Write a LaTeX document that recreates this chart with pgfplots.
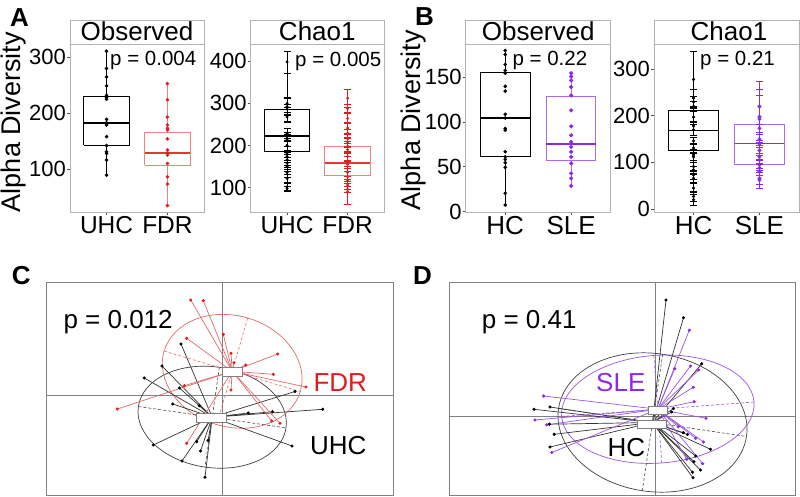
\documentclass[border=0pt]{standalone}
\usepackage{fontspec}
\setmainfont{Liberation Sans}
\usepackage{pgfplots}
\pgfplotsset{compat=1.18}
\usepackage{pgfplotstable}

\definecolor{fdrc}{RGB}{228,26,28}
\definecolor{fdrbox}{RGB}{238,130,125}
\definecolor{fdrmed}{RGB}{226,55,50}
\definecolor{slec}{RGB}{140,40,230}
\definecolor{slebox}{RGB}{172,105,236}
\definecolor{fdrline}{RGB}{226,105,105}
\definecolor{sleline}{RGB}{155,85,226}
\definecolor{fgray}{RGB}{179,179,179}
\definecolor{fgraytwo}{RGB}{128,128,128}

\newcommand{\fsz}[1]{\fontsize{#1}{#1}\selectfont}

\pgfplotsset{
 mybx/.style={scale only axis, anchor=south west, height=168pt,
   axis line style={fgray, line width=0.8pt},
   tick style={black!70, line width=0.7pt},
   tick align=outside, major tick length=3pt, xtick pos=bottom, ytick pos=left,
   xmin=0.4, xmax=2.6, xtick={1,2},
   /pgf/number format/assume math mode=true,
   yticklabel style={font=\fsz{22}, inner sep=1pt},
   xticklabel style={font=\fsz{24.5}, inner sep=1pt},
   clip=false},
 mybox/.style={line width=0.9pt, mark=none},
 mymed/.style={line width=1.5pt, mark=none},
 mydot/.style={only marks, mark=*, mark size=1.6pt},
 myebar/.style={error bars/.cd, y dir=both, y explicit,
   error bar style={line width=0.6pt, #1},
   error mark options={rotate=90, mark size=3.5pt, line width=0.6pt, #1}},
 myord/.style={scale only axis, anchor=south west, ticks=none,
   axis line style={fgraytwo, line width=0.9pt}, y dir=reverse, clip=false},
}

% ---------- Panel A data ----------
\pgfplotstableread{
y
311
280
265
249
232
228
225
189
183
179
158
142
131
128
116
89
}\AobsU
\pgfplotstableread{
y
253
224
193
179
173
170
154
134
129
125
110
86
73
34.5
}\AobsF
\pgfplotstableread{
y e
398 26
300 15
292 20
286 12
272 18
268 10
228 12
221 10
213 14
200 12
182 16
174 10
166 12
158 14
150 10
136 12
122 10
102 8
98 6
}\AchU
\pgfplotstableread{
y e
312 21
288 10
264 12
241 14
229 10
216 12
206 10
198 12
190 8
174 10
162 12
155 8
136 10
126 12
118 8
106 10
96 8
90 30
}\AchF
% ---------- Panel B data ----------
\pgfplotstableread{
y
179.7
175.2
164.1
157.4
154.4
139.7
134.4
108.6
104.4
92.6
90.8
66.7
61.1
58.2
54.4
49.3
20.4
7.4
}\BobsH
\pgfplotstableread{
y
154.4
150.7
146.3
139
129.6
112.9
95.1
85.1
77.7
72.2
66.7
61.1
53.7
42.6
37
28.6
}\BobsS
\pgfplotstableread{
y e
278 61
238 18
230 12
220 10
197 12
178 10
170 12
146 8
131 10
116 12
112 8
91 10
84 8
73 10
66 8
45 10
27 10
20 12
}\BchH
\pgfplotstableread{
y e
220 55
198 58
193 50
173 8
150 10
140 8
126 10
112 8
105 10
95 12
88 10
80 8
66 12
62 17
}\BchS
% ---------- Panel C data ----------
\pgfplotstableread{
x y
181 344
162 366
144.3 378
179.5 388
172.7 404
199.3 405.7
248.3 413
272.5 411.7
322.7 409.3
295 391.5
292 446
153.3 445
182 461
196.7 441.7
200.5 451
208 440.5
205 477.3
}\CUHC
\pgfplotstableread{
x y
190.7 300
203.3 300.7
186.7 338.3
223.3 334.3
231 353.3
234 362.7
245.7 365
277.7 354
273.3 374.3
306 387
184.3 385.7
231 390
117.3 409
186.7 443.3
271.7 421
280 423.3
}\CFDR
% ---------- Panel D data ----------
\pgfplotstableread{
x y
666 300
683.5 317.7
701.7 363.8
534 409.3
550 407
549.3 424.2
554.2 434.3
550 447
673.5 408.5
671.7 412
687.5 434.5
683.3 432.7
710.5 449.3
695.7 456
694 461.7
700.5 470
692.5 472.3
693 477.8
}\DHC
\pgfplotstableread{
x y
689.3 330.2
674.8 368.7
690.5 366
698.7 370
693.3 387.3
694.2 401.7
706 418.3
543.6 396
535 420
546.7 424.8
551.7 452.5
678.3 426.7
695.7 438.3
703.5 442
686.7 459.2
702.7 463.7
}\DSLE

\begin{document}
\begin{tikzpicture}
\path[use as bounding box] (0pt,0pt) rectangle (800pt,497pt);

% ===== A: Observed =====
\begin{axis}[mybx, at={(70pt,285pt)}, width=134pt, ymin=23, ymax=324,
  ytick={100,200,300}, xticklabels={UHC,FDR}]
\addplot[mybox, black] coordinates {(1,230) (1,311)};
\addplot[mybox, black] coordinates {(1,143) (1,89)};
\addplot[mybox, black] coordinates {(0.625,143) (1.375,143) (1.375,230) (0.625,230) (0.625,143)};
\addplot[mymed, black] coordinates {(0.625,182) (1.375,182)};
\addplot[mybox, fdrbox] coordinates {(2,165) (2,253)};
\addplot[mybox, fdrbox] coordinates {(2,107) (2,34.5)};
\addplot[mybox, fdrbox] coordinates {(1.625,107) (2.375,107) (2.375,165) (1.625,165) (1.625,107)};
\addplot[mymed, fdrmed] coordinates {(1.625,129) (2.375,129)};
\addplot[mydot, black] table[x expr=1, y=y] {\AobsU};
\addplot[mydot, fdrc] table[x expr=2, y=y] {\AobsF};
\end{axis}

% ===== A: Chao1 =====
\begin{axis}[mybx, at={(250.7pt,285pt)}, width=133.3pt, ymin=42.4, ymax=440.5,
  ytick={100,200,300,400}, xticklabels={UHC,FDR}]
\addplot[mybox, black] coordinates {(1,285.8) (1,398)};
\addplot[mybox, black] coordinates {(1,187) (1,98)};
\addplot[mybox, black] coordinates {(0.625,187) (1.375,187) (1.375,285.8) (0.625,285.8) (0.625,187)};
\addplot[mymed, black] coordinates {(0.625,223) (1.375,223)};
\addplot[mybox, fdrbox] coordinates {(2,197) (2,312)};
\addplot[mybox, fdrbox] coordinates {(2,128) (2,90)};
\addplot[mybox, fdrbox] coordinates {(1.625,128) (2.375,128) (2.375,197) (1.625,197) (1.625,128)};
\addplot[mymed, fdrmed] coordinates {(1.625,158) (2.375,158)};
\addplot[mydot, black, mark size=1.3pt, myebar=black] table[x expr=1, y=y, y error=e] {\AchU};
\addplot[mydot, fdrc, mark size=1.3pt, myebar=fdrc] table[x expr=2, y=y, y error=e] {\AchF};
\end{axis}

% ===== B: Observed =====
\begin{axis}[mybx, at={(465.7pt,285pt)}, width=145pt, ymin=-0.5, ymax=187,
  ytick={0,50,100,150}, xticklabels={HC,SLE},
  xticklabel style={font=\fsz{26}, inner sep=1pt}]
\addplot[mybox, black] coordinates {(1,155) (1,179.7)};
\addplot[mybox, black] coordinates {(1,61) (1,7.4)};
\addplot[mybox, black] coordinates {(0.625,61) (1.375,61) (1.375,155) (0.625,155) (0.625,61)};
\addplot[mymed, black] coordinates {(0.625,104.4) (1.375,104.4)};
\addplot[mybox, slebox] coordinates {(2,128.6) (2,154.4)};
\addplot[mybox, slebox] coordinates {(2,56.7) (2,28.6)};
\addplot[mybox, slebox] coordinates {(1.625,56.7) (2.375,56.7) (2.375,128.6) (1.625,128.6) (1.625,56.7)};
\addplot[mymed, slec] coordinates {(1.625,75.2) (2.375,75.2)};
\addplot[mydot, black] table[x expr=1, y=y] {\BobsH};
\addplot[mydot, slec, mark size=1.9pt] table[x expr=2, y=y] {\BobsS};
\end{axis}

% ===== B: Chao1 =====
\begin{axis}[mybx, at={(654pt,285pt)}, width=145pt, ymin=-6.4, ymax=354,
  ytick={0,100,200,300}, xticklabels={HC,SLE},
  xticklabel style={font=\fsz{26}, inner sep=1pt}]
\addplot[mybox, black] coordinates {(1,211) (1,278)};
\addplot[mybox, black] coordinates {(1,125) (1,20)};
\addplot[mybox, black] coordinates {(0.625,125) (1.375,125) (1.375,211) (0.625,211) (0.625,125)};
\addplot[mymed, black] coordinates {(0.625,168) (1.375,168)};
\addplot[mybox, slebox] coordinates {(2,180.5) (2,220)};
\addplot[mybox, slebox] coordinates {(2,95) (2,62)};
\addplot[mybox, slebox] coordinates {(1.625,95) (2.375,95) (2.375,180.5) (1.625,180.5) (1.625,95)};
\addplot[mymed, slec] coordinates {(1.625,140) (2.375,140)};
\addplot[mydot, black, mark size=1.4pt, myebar=black] table[x expr=1, y=y, y error=e] {\BchH};
\addplot[mydot, slec, mark size=1.8pt, myebar=slec] table[x expr=2, y=y, y error=e] {\BchS};
\end{axis}

% ===== C =====
\begin{axis}[myord, at={(46.7pt,2pt)}, width=346.6pt, height=212.3pt,
  xmin=46.7, xmax=393.3, ymin=282.7, ymax=495]
\addplot[fgraytwo, line width=0.8pt] coordinates {(222.3,282.7) (222.3,495)};
\addplot[fgraytwo, line width=0.8pt] coordinates {(46.7,395) (393.3,395)};
\draw[black!75, line width=0.7pt] (axis cs:212.2,417.2) ellipse [x radius=74.6pt, y radius=50.4pt, rotate=-8.2];
\draw[fdrline, line width=0.7pt] (axis cs:232.2,371.3) ellipse [x radius=71pt, y radius=55.5pt, rotate=-16.5];
\addplot[black!70, line width=0.6pt, dash pattern=on 3pt off 2pt] coordinates {(138.4,406.5) (286,427.9)};
\addplot[black!70, line width=0.6pt, dash pattern=on 3pt off 2pt] coordinates {(219.4,367.3) (205,467.1)};
\addplot[fdrline, line width=0.6pt, dash pattern=on 3pt off 2pt] coordinates {(164.1,351.1) (300.3,391.5)};
\addplot[fdrline, line width=0.6pt, dash pattern=on 3pt off 2pt] coordinates {(247.7,318) (216.7,424.6)};
\addplot[black!80, line width=0.7pt, quiver={u={212.2-\thisrow{x}}, v={417.2-\thisrow{y}}}] table {\CUHC};
\addplot[fdrline, line width=0.7pt, quiver={u={232.2-\thisrow{x}}, v={371.3-\thisrow{y}}}] table {\CFDR};
\addplot[mydot, black, mark size=1.4pt] table {\CUHC};
\addplot[mydot, fdrc, mark size=1.4pt] table {\CFDR};
\addplot[fill=white, draw=gray, line width=0.6pt] coordinates {(196.7,413.3) (226.7,413.3) (226.7,422.3) (196.7,422.3) (196.7,413.3)};
\addplot[fill=white, draw=gray, line width=0.6pt] coordinates {(222.7,367.3) (242.7,367.3) (242.7,376.7) (222.7,376.7) (222.7,367.3)};
\end{axis}

% ===== D =====
\begin{axis}[myord, at={(449.3pt,2pt)}, width=345.7pt, height=212.3pt,
  xmin=449.3, xmax=795, ymin=282.7, ymax=495]
\addplot[fgraytwo, line width=0.8pt] coordinates {(655,282.7) (655,495)};
\addplot[fgraytwo, line width=0.8pt] coordinates {(449.3,416) (795,416)};
\draw[black!75, line width=0.7pt] (axis cs:652.5,422.5) ellipse [x radius=95pt, y radius=69pt, rotate=-8.5];
\draw[sleline, line width=0.7pt] (axis cs:657.8,409.2) ellipse [x radius=96.5pt, y radius=53.9pt, rotate=4.3];
\addplot[black!70, line width=0.6pt, dash pattern=on 3pt off 2pt] coordinates {(558.5,408.5) (746.5,436.5)};
\addplot[black!70, line width=0.6pt, dash pattern=on 3pt off 2pt] coordinates {(662.7,354.3) (642.3,490.7)};
\addplot[sleline, line width=0.6pt, dash pattern=on 3pt off 2pt] coordinates {(561.6,416.4) (754,402)};
\addplot[sleline, line width=0.6pt, dash pattern=on 3pt off 2pt] coordinates {(653.8,355.5) (661.8,462.9)};
\addplot[black!80, line width=0.7pt, quiver={u={652.5-\thisrow{x}}, v={422.5-\thisrow{y}}}] table {\DHC};
\addplot[sleline, line width=0.7pt, quiver={u={657.8-\thisrow{x}}, v={409.2-\thisrow{y}}}] table {\DSLE};
\addplot[mydot, black, mark size=1.4pt] table {\DHC};
\addplot[mydot, slec, mark size=1.4pt] table {\DSLE};
\addplot[fill=white, draw=gray, line width=0.6pt] coordinates {(636.8,420) (666.7,420) (666.7,428.3) (636.8,428.3) (636.8,420)};
\addplot[fill=white, draw=gray, line width=0.6pt] coordinates {(648.3,406) (667.5,406) (667.5,414.3) (648.3,414.3) (648.3,406)};
\end{axis}

% ===== strips =====
\draw[fgray, line width=0.8pt, fill=white] (70pt,453pt) rectangle (204pt,477pt);
\draw[fgray, line width=0.8pt, fill=white] (250.7pt,453pt) rectangle (384pt,477pt);
\draw[fgray, line width=0.8pt, fill=white] (465.7pt,453pt) rectangle (610.7pt,477pt);
\draw[fgray, line width=0.8pt, fill=white] (654pt,453pt) rectangle (799pt,477pt);
\node[font=\fsz{26}, anchor=base, inner sep=0] at (137pt,456.3pt) {Observed};
\node[font=\fsz{26}, anchor=base, inner sep=0] at (317.3pt,456.3pt) {Chao1};
\node[font=\fsz{26}, anchor=base, inner sep=0] at (538.2pt,456.3pt) {Observed};
\node[font=\fsz{26}, anchor=base, inner sep=0] at (729pt,456.3pt) {Chao1};

% ===== texts =====
\node[font=\bfseries\fsz{26}, anchor=base west, inner sep=0] at (10pt,470.3pt) {A};
\node[font=\bfseries\fsz{26}, anchor=base west, inner sep=0] at (415pt,471pt) {B};
\node[font=\bfseries\fsz{26}, anchor=base west, inner sep=0] at (11.7pt,212pt) {C};
\node[font=\bfseries\fsz{26}, anchor=base west, inner sep=0] at (413pt,212pt) {D};
\node[font=\fsz{27}, rotate=90, inner sep=0] at (13.3pt,375pt) {Alpha Diversity};
\node[font=\fsz{27}, rotate=90, inner sep=0] at (413.3pt,377pt) {Alpha Diversity};
\node[font=\fsz{20.5}, anchor=base west, inner sep=0] at (110pt,431.3pt) {p = 0.004};
\node[font=\fsz{20.5}, anchor=base west, inner sep=0] at (295pt,430.3pt) {p = 0.005};
\node[font=\fsz{20.5}, anchor=base west, inner sep=0] at (512.3pt,431.3pt) {p = 0.22};
\node[font=\fsz{20.5}, anchor=base west, inner sep=0] at (700pt,431.3pt) {p = 0.21};
\node[font=\fsz{26}, anchor=base west, inner sep=0] at (63.3pt,168.7pt) {p = 0.012};
\node[font=\fsz{26}, anchor=base west, inner sep=0] at (481.7pt,168.7pt) {p = 0.41};
\node[font=\fsz{26}, anchor=base west, inner sep=0, text=fdrc] at (313.3pt,105.3pt) {FDR};
\node[font=\fsz{26}, anchor=base west, inner sep=0] at (310pt,42pt) {UHC};
\node[font=\fsz{26}, anchor=base west, inner sep=0, text=slec] at (596pt,105.3pt) {SLE};
\node[font=\fsz{26}, anchor=base west, inner sep=0] at (607.3pt,40.3pt) {HC};
\end{tikzpicture}
\end{document}
